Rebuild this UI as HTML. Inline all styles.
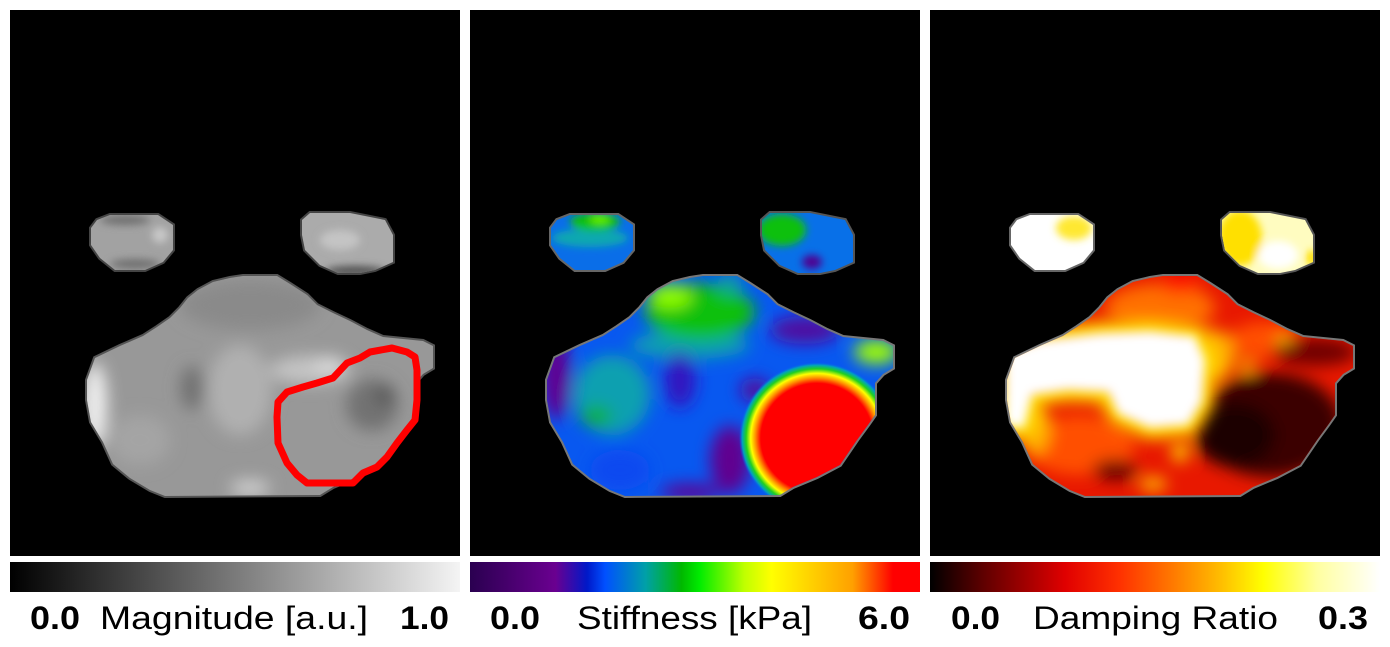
<!DOCTYPE html>
<html><head><meta charset="utf-8"><style>
html,body{margin:0;padding:0;background:#fff;}
svg{display:block;}
text{font-family:"Liberation Sans",Arial,sans-serif;}
</style></head><body>
<svg width="1390" height="647" viewBox="0 0 1390 647" xmlns="http://www.w3.org/2000/svg">
<defs>
<filter id="bl" x="-50%" y="-50%" width="200%" height="200%"><feGaussianBlur stdDeviation="8"/></filter>
<filter id="bs" x="-50%" y="-50%" width="200%" height="200%"><feGaussianBlur stdDeviation="4"/></filter>
<filter id="bw" x="-50%" y="-50%" width="200%" height="200%"><feGaussianBlur stdDeviation="5"/></filter>
<clipPath id="c1"><polygon id="bodyp" points="243,276 277,276 290,284 307,295 317,305 333,313 350,321 367,330 383,337 423,341 433,346 433,368 423,374 415,383 415,415 408,425 397,440 380,465 357,477 333,487 320,495 165,496 150,490 130,478 113,464 103,442 91,422 87,400 87,380 95,358 120,346 143,336 157,327 170,318 180,308 188,298 198,290 213,282 230,278"/></clipPath>
<clipPath id="c2"><use href="#bodyp" transform="translate(460 0)"/></clipPath>
<clipPath id="c3"><use href="#bodyp" transform="translate(920 0)"/></clipPath>
<clipPath id="l1"><polygon id="lbp" points="110,215 158,215 173,225 173,250 163,262 145,270 115,270 100,258 91,245 91,228 97,220"/></clipPath>
<clipPath id="r1"><polygon id="rbp" points="310,213 350,213 385,220 393,235 393,262 375,270 360,273 338,273 320,265 305,250 302,235 302,220"/></clipPath>
<clipPath id="l2"><use href="#lbp" transform="translate(460 0)"/></clipPath>
<clipPath id="r2"><use href="#rbp" transform="translate(460 0)"/></clipPath>
<clipPath id="l3"><use href="#lbp" transform="translate(920 0)"/></clipPath>
<clipPath id="r3"><use href="#rbp" transform="translate(920 0)"/></clipPath>
<linearGradient id="gGray" x1="0" x2="1" y1="0" y2="0"><stop offset="0" stop-color="#000"/><stop offset="1" stop-color="#f4f4f4"/></linearGradient>
<linearGradient id="gStiff" x1="0" x2="1" y1="0" y2="0">
<stop offset="0" stop-color="#2a0050"/><stop offset="0.19" stop-color="#6a0090"/><stop offset="0.26" stop-color="#0018c8"/><stop offset="0.30" stop-color="#0050ff"/><stop offset="0.39" stop-color="#00a0a8"/><stop offset="0.47" stop-color="#00b800"/><stop offset="0.51" stop-color="#00ec00"/><stop offset="0.61" stop-color="#c0ff00"/><stop offset="0.67" stop-color="#ffff00"/><stop offset="0.85" stop-color="#ffa000"/><stop offset="0.94" stop-color="#ff0000"/><stop offset="1" stop-color="#ff0000"/></linearGradient>
<linearGradient id="gHot" x1="0" x2="1" y1="0" y2="0">
<stop offset="0" stop-color="#000"/><stop offset="0.12" stop-color="#600000"/><stop offset="0.30" stop-color="#e00000"/><stop offset="0.42" stop-color="#ff3000"/><stop offset="0.55" stop-color="#ff8000"/><stop offset="0.65" stop-color="#ffc000"/><stop offset="0.74" stop-color="#ffff00"/><stop offset="0.86" stop-color="#ffffa0"/><stop offset="1" stop-color="#ffffff"/></linearGradient>
<radialGradient id="gRed" cx="0.5" cy="0.5" r="0.5">
<stop offset="0" stop-color="#ff0000"/><stop offset="0.72" stop-color="#ff0000"/><stop offset="0.79" stop-color="#ff9000"/><stop offset="0.85" stop-color="#ffff00"/><stop offset="0.91" stop-color="#20d020"/><stop offset="0.96" stop-color="#00a0c0"/><stop offset="1" stop-color="#0858f0" stop-opacity="0"/></radialGradient>
</defs>
<rect width="1390" height="647" fill="#fff"/>
<rect x="10" y="10" width="450" height="546" fill="#000"/>
<rect x="470" y="10" width="450" height="546" fill="#000"/>
<rect x="930" y="10" width="450" height="546" fill="#000"/>

<!-- Panel 1 -->
<use href="#bodyp" fill="none" stroke="#555" stroke-width="4"/>
<use href="#lbp" fill="none" stroke="#444" stroke-width="4"/>
<use href="#rbp" fill="none" stroke="#444" stroke-width="4"/>
<g clip-path="url(#l1)"><rect x="80" y="200" width="110" height="80" fill="#a2a2a2"/>
<g filter="url(#bs)"><ellipse cx="125" cy="220" rx="25" ry="5" fill="#707070"/><ellipse cx="135" cy="264" rx="25" ry="5" fill="#707070"/><ellipse cx="160" cy="235" rx="8" ry="8" fill="#c8c8c8"/></g></g>
<g clip-path="url(#r1)"><rect x="295" y="205" width="110" height="75" fill="#ababab"/>
<g filter="url(#bs)"><ellipse cx="355" cy="271" rx="30" ry="5" fill="#505050"/><ellipse cx="340" cy="240" rx="20" ry="10" fill="#c4c4c4"/></g></g>
<g clip-path="url(#c1)"><rect x="80" y="270" width="360" height="235" fill="#989898"/>
<g filter="url(#bl)">
<ellipse cx="250" cy="305" rx="70" ry="25" fill="#8a8a8a"/>
<ellipse cx="95" cy="405" rx="12" ry="42" fill="#f0f0f0"/>
<ellipse cx="240" cy="390" rx="32" ry="45" fill="#b0b0b0"/>
<ellipse cx="310" cy="370" rx="40" ry="14" fill="#c4c4c4"/>
<ellipse cx="330" cy="365" rx="15" ry="8" fill="#dcdcdc"/>
<ellipse cx="192" cy="388" rx="12" ry="22" fill="#727272"/>
<ellipse cx="372" cy="405" rx="26" ry="26" fill="#727272"/>
<ellipse cx="385" cy="395" rx="10" ry="10" fill="#585858"/>
<ellipse cx="250" cy="488" rx="20" ry="8" fill="#d0d0d0"/>
<ellipse cx="140" cy="440" rx="30" ry="25" fill="#a4a4a4"/>
</g></g>
<polygon points="278,402 287,392 303,387 317,383 333,378 347,363 360,358 370,352 392,348 407,352 415,357 417,370 417,400 415,420 407,430 397,443 387,457 377,467 363,473 353,483 307,483 297,475 287,463 278,443 277,417" fill="none" stroke="#ff0000" stroke-width="7" stroke-linejoin="round"/>

<!-- Panel 2 -->
<use href="#bodyp" transform="translate(460 0)" fill="none" stroke="#777" stroke-width="4"/>
<use href="#lbp" transform="translate(460 0)" fill="none" stroke="#666" stroke-width="4"/>
<use href="#rbp" transform="translate(460 0)" fill="none" stroke="#555" stroke-width="4"/>
<g clip-path="url(#l2)"><rect x="545" y="205" width="100" height="75" fill="#0a6ee8"/>
<g filter="url(#bs)"><ellipse cx="590" cy="238" rx="38" ry="9" fill="#10a8b0"/><ellipse cx="595" cy="222" rx="25" ry="9" fill="#10c010"/><ellipse cx="600" cy="219" rx="10" ry="5" fill="#60f000"/></g></g>
<g clip-path="url(#r2)"><rect x="755" y="205" width="110" height="75" fill="#0870e8"/>
<g filter="url(#bs)"><ellipse cx="782" cy="230" rx="24" ry="16" fill="#10c010"/><ellipse cx="812" cy="262" rx="10" ry="7" fill="#500090"/></g></g>
<g clip-path="url(#c2)"><rect x="540" y="270" width="360" height="235" fill="#0858f0"/>
<g filter="url(#bl)">
<ellipse cx="612" cy="395" rx="38" ry="40" fill="#10a0b0"/>
<ellipse cx="596" cy="416" rx="16" ry="10" fill="#10b030"/>
<ellipse cx="690" cy="345" rx="60" ry="14" fill="#10a0b0"/>
<ellipse cx="700" cy="312" rx="55" ry="28" fill="#10c010"/>
<ellipse cx="670" cy="296" rx="22" ry="12" fill="#90ff00"/>
<ellipse cx="730" cy="284" rx="12" ry="10" fill="#10a0a0"/>
<ellipse cx="556" cy="375" rx="14" ry="45" fill="#600090"/>
<ellipse cx="680" cy="380" rx="16" ry="28" fill="#3018c0"/>
<ellipse cx="730" cy="460" rx="20" ry="34" fill="#600090"/>
<ellipse cx="690" cy="492" rx="30" ry="8" fill="#600090"/>
<ellipse cx="805" cy="330" rx="35" ry="14" fill="#5010a0"/>
<ellipse cx="755" cy="390" rx="15" ry="12" fill="#5010a0"/>
<ellipse cx="876" cy="352" rx="22" ry="12" fill="#a0ff00"/>
<ellipse cx="620" cy="470" rx="30" ry="20" fill="#0848f0"/>
</g>
<ellipse cx="817" cy="438" rx="78" ry="76" fill="url(#gRed)"/>
</g>

<!-- Panel 3 -->
<use href="#bodyp" transform="translate(920 0)" fill="none" stroke="#777" stroke-width="4"/>
<use href="#lbp" transform="translate(920 0)" fill="none" stroke="#666" stroke-width="4"/>
<use href="#rbp" transform="translate(920 0)" fill="none" stroke="#555" stroke-width="4"/>
<g clip-path="url(#l3)"><rect x="1005" y="205" width="100" height="75" fill="#ffffff"/>
<g filter="url(#bs)"><ellipse cx="1074" cy="228" rx="18" ry="12" fill="#ffe830"/></g></g>
<g clip-path="url(#r3)"><rect x="1215" y="205" width="110" height="75" fill="#fffcc0"/>
<g filter="url(#bs)"><ellipse cx="1240" cy="238" rx="22" ry="28" fill="#ffe000"/><ellipse cx="1278" cy="255" rx="20" ry="14" fill="#ffffff"/><ellipse cx="1312" cy="258" rx="6" ry="8" fill="#ffe000"/></g></g>
<g clip-path="url(#c3)"><rect x="1000" y="270" width="360" height="235" fill="#e81800"/>
<g filter="url(#bl)">
<ellipse cx="1160" cy="308" rx="55" ry="24" fill="#ff7000"/>
<ellipse cx="1180" cy="284" rx="20" ry="9" fill="#ff1000"/>
<ellipse cx="1265" cy="340" rx="35" ry="18" fill="#ff5000"/>
<ellipse cx="1285" cy="342" rx="8" ry="6" fill="#ffe000"/>
<ellipse cx="1215" cy="355" rx="20" ry="25" fill="#ffb000"/>
<ellipse cx="1080" cy="445" rx="55" ry="30" fill="#ff5000"/>
<ellipse cx="1035" cy="430" rx="15" ry="25" fill="#ffb000"/>
<ellipse cx="1115" cy="470" rx="22" ry="10" fill="#600000"/>
<ellipse cx="1270" cy="425" rx="72" ry="52" fill="#3a0000"/>
<ellipse cx="1235" cy="435" rx="40" ry="32" fill="#1a0000"/>
<ellipse cx="1315" cy="352" rx="42" ry="14" fill="#700000"/>
<ellipse cx="1247" cy="367" rx="8" ry="6" fill="#ffd000"/>
<ellipse cx="1180" cy="452" rx="8" ry="10" fill="#ffe000"/>
<ellipse cx="1153" cy="484" rx="14" ry="7" fill="#ffc000"/>
</g>
<g filter="url(#bl)">
<polygon points="1005,352 1040,340 1100,333 1150,331 1195,336 1205,360 1202,402 1188,425 1150,428 1118,414 1108,392 1068,390 1032,395 1024,428 1005,425" fill="none" stroke="#ffe000" stroke-width="22" stroke-linejoin="round"/>
</g>
<g filter="url(#bw)">
<polygon points="1005,352 1040,340 1100,333 1150,331 1195,336 1205,360 1202,402 1188,425 1150,428 1118,414 1108,392 1068,390 1032,395 1024,428 1005,425" fill="#ffffff"/>
</g>
</g>

<!-- Colorbars -->
<rect x="10" y="562" width="450" height="30" fill="url(#gGray)"/>
<rect x="470" y="562" width="450" height="30" fill="url(#gStiff)"/>
<rect x="930" y="562" width="450" height="30" fill="url(#gHot)"/>

<!-- Labels -->
<g font-size="32" fill="#000">
<text x="30" y="629" font-weight="bold" textLength="50" lengthAdjust="spacingAndGlyphs">0.0</text>
<text x="100" y="629" textLength="268" lengthAdjust="spacingAndGlyphs">Magnitude [a.u.]</text>
<text x="400" y="629" font-weight="bold" textLength="49" lengthAdjust="spacingAndGlyphs">1.0</text>
<text x="490" y="629" font-weight="bold" textLength="50" lengthAdjust="spacingAndGlyphs">0.0</text>
<text x="577" y="629" textLength="235" lengthAdjust="spacingAndGlyphs">Stiffness [kPa]</text>
<text x="858" y="629" font-weight="bold" textLength="52" lengthAdjust="spacingAndGlyphs">6.0</text>
<text x="951" y="629" font-weight="bold" textLength="49" lengthAdjust="spacingAndGlyphs">0.0</text>
<text x="1033" y="629" textLength="245" lengthAdjust="spacingAndGlyphs">Damping Ratio</text>
<text x="1318" y="629" font-weight="bold" textLength="50" lengthAdjust="spacingAndGlyphs">0.3</text>
</g>
</svg>
</body></html>
